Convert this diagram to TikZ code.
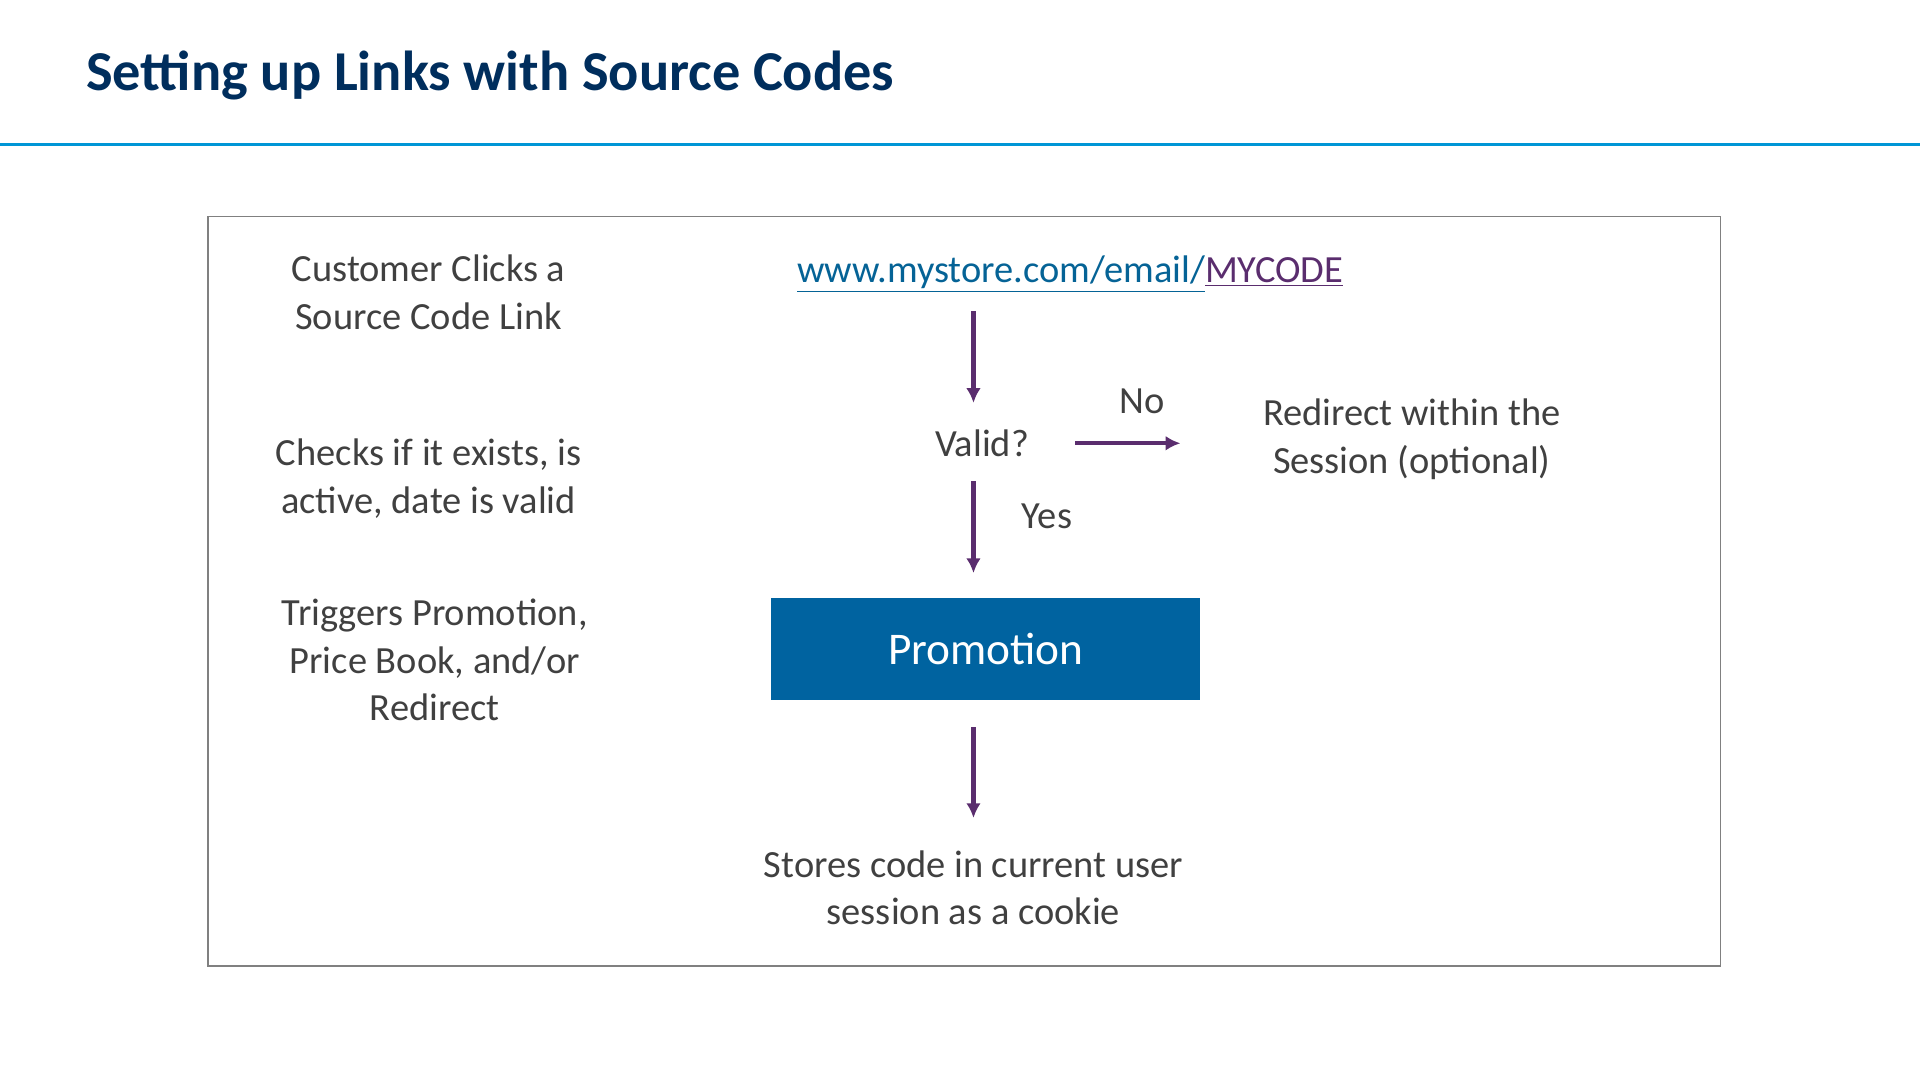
\documentclass[tikz,border=0pt]{standalone}
\usepackage{fontspec}
\setmainfont{Carlito}
\usetikzlibrary{positioning}
\definecolor{navy}{RGB}{0,46,93}
\definecolor{rule}{RGB}{0,150,214}
\definecolor{flow}{RGB}{90,45,110}
\definecolor{promo}{RGB}{0,99,160}
\definecolor{txt}{RGB}{64,64,64}
\definecolor{link}{RGB}{5,99,150}
\tikzset{
  lbl/.style={text=txt, align=center, font=\fontsize{15.7}{19.5}\selectfont},
  flowarr/.style={flow, line width=1.8pt, -{Latex[length=6pt,width=6pt]}}
}
\usetikzlibrary{arrows.meta}
\begin{document}
\begin{tikzpicture}[x=0.5pt, y=-0.5pt]
\useasboundingbox (0,0) rectangle (1568,882);
\node[anchor=west, inner sep=0pt, text=navy, font=\fontsize{23}{27}\selectfont\bfseries] (title) at (70,62) {Setting up Links with Source Codes};
\draw[rule, line width=1.5pt] (0,118) -- (1568,118);
\draw[gray, line width=0.6pt] (170,177) rectangle (1405,789);

\node[lbl] (click) at (350,239) {Customer Clicks a\\Source Code Link};
\node[lbl] (check) at (350,391) {Checks if it exists, is\\active, date is valid};
\node[lbl] (trig) at (355,539) {Triggers Promotion,\\Price Book, and/or\\Redirect};

\node[lbl] (url) at (874,224) {\textcolor{link}{\underline{www.mystore.com/email/}}\textcolor{flow}{\underline{MYCODE}}};
\node[lbl] (valid) at (802,362) {Valid?};
\node[lbl] (no) at (933,328) {No};
\node[lbl] (redir) at (1153,359) {Redirect within the\\Session (optional)};
\node[lbl] (yes) at (855,422) {Yes};
\node[fill=promo, text=white, minimum width=175pt, minimum height=42pt, font=\fontsize{18.5}{22}\selectfont] (promotion) at (805,530) {Promotion};
\node[lbl] (store) at (795,725) {Stores code in current user\\session as a cookie};

\coordinate (a1) at (795,254); \coordinate (b1) at (795,329);
\coordinate (a2) at (878,362); \coordinate (b2) at (964,362);
\coordinate (a3) at (795,393); \coordinate (b3) at (795,468);
\coordinate (a4) at (795,594); \coordinate (b4) at (795,668);
\draw[flowarr] (a1) -- (b1);
\draw[flowarr] (a2) -- (b2);
\draw[flowarr] (a3) -- (b3);
\draw[flowarr] (a4) -- (b4);
\end{tikzpicture}
\end{document}
